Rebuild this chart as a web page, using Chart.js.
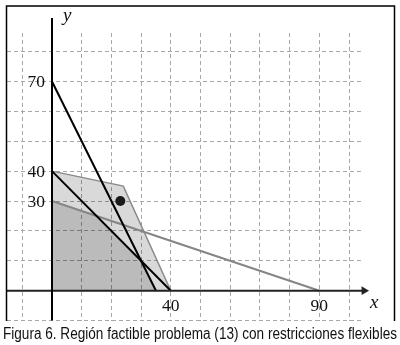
<!DOCTYPE html>
<html>
<head>
<meta charset="utf-8">
<script src="https://cdn.jsdelivr.net/npm/chart.js@4/dist/chart.umd.min.js"></script>
<style>
  html, body { margin: 0; background: #fff; }
  #wrap { width: 400px; height: 345px; }
</style>
</head>
<body>
<div id="wrap"><canvas id="c" width="400" height="345"></canvas></div>
<script>
// flexible (light) region and original (dark) region, upper boundary vertices
const flexX = [0, 24, 40];
const flexY = [40, 35, 0];
const origX = [0, 15, 30, 35];
const origY = [30, 25, 10, 0];
// constraint lines, intercept to intercept
const lineAX = [0, 35];
const lineAY = [70, 0];
const lineBX = [0, 40];
const lineBY = [40, 0];
const lineCX = [0, 90];
const lineCY = [30, 0];
// the marked point
const dotX = [23];
const dotY = [30];
// labelled ticks
const xTickLabels = [40, 90];
const yTickLabels = [70, 40, 30];
const CAPTION = 'Figura 6. Región factible problema (13) con restricciones flexibles';

const X_MIN = -15.15, X_MAX = 104.7;
const Y_MIN = -10, Y_MAX = 86.2;

const pts = (xs, ys) => xs.map((x, i) => ({ x, y: ys[i] }));

const decor = {
  id: 'decor',
  afterDraw(chart) {
    const { ctx, scales: { x, y } } = chart;
    const x0 = x.getPixelForValue(0), y0 = y.getPixelForValue(0);
    ctx.save();
    ctx.fillStyle = '#111';
    ctx.font = '17.5px "Liberation Serif"';
    ctx.textAlign = 'right';
    ctx.textBaseline = 'middle';
    yTickLabels.forEach(v => ctx.fillText(String(v), 45, y.getPixelForValue(v) + 1));
    ctx.textAlign = 'center';
    xTickLabels.forEach(v => ctx.fillText(String(v), x.getPixelForValue(v), y0 + 16));
    ctx.font = 'italic 19px "Liberation Serif"';
    ctx.textAlign = 'left';
    ctx.fillText('y', x0 + 11, 16);
    ctx.fillText('x', 370, y0 + 12);
    // frame (open at the bottom, like the original)
    ctx.strokeStyle = '#000';
    ctx.lineWidth = 1.5;
    ctx.beginPath();
    ctx.moveTo(6.5, 321);
    ctx.lineTo(6.5, 6);
    ctx.lineTo(394.5, 6);
    ctx.lineTo(394.5, 321);
    ctx.stroke();
    // caption
    ctx.fillStyle = '#111';
    ctx.font = '16px "Liberation Sans"';
    ctx.textAlign = 'center';
    ctx.textBaseline = 'alphabetic';
    ctx.fillText(CAPTION, 200, 338.5, 394);
    ctx.restore();
  }
};

const gridOpts = { color: '#a8a8a8', lineWidth: 1, drawTicks: false };

new Chart(document.getElementById('c').getContext('2d'), {
  type: 'line',
  data: {
    datasets: [
      { // y axis with arrow
        data: [{ x: 0, y: Y_MIN }, { x: 0, y: 91.2 }],
        borderColor: '#000', borderWidth: 2,
        pointRadius: [0, 5], pointStyle: 'triangle', pointRotation: 0,
        pointBackgroundColor: '#000', pointBorderWidth: 0,
        clip: false, order: 1,
      },
      { // x axis with arrow
        data: [{ x: X_MIN, y: 0 }, { x: 105.05, y: 0 }],
        borderColor: '#222', borderWidth: 2,
        pointRadius: [0, 5], pointStyle: 'triangle', pointRotation: 90,
        pointBackgroundColor: '#222', pointBorderWidth: 0,
        clip: false, order: 1,
      },
      {
        data: pts(dotX, dotY),
        showLine: false, pointRadius: 5,
        pointBackgroundColor: '#1a1a1a', pointBorderWidth: 0, order: 2,
      },
      { data: pts(lineAX, lineAY), borderColor: '#000', borderWidth: 2, pointRadius: 0, order: 3 },
      { data: pts(lineBX, lineBY), borderColor: '#000', borderWidth: 2, pointRadius: 0, order: 3 },
      { data: pts(lineCX, lineCY), borderColor: '#858585', borderWidth: 2, pointRadius: 0, order: 4 },
      {
        data: pts(origX, origY), fill: 'origin',
        backgroundColor: 'rgba(0,0,0,0.14)', borderWidth: 0, pointRadius: 0, order: 5,
      },
      {
        data: pts(flexX, flexY), fill: 'origin',
        backgroundColor: 'rgba(0,0,0,0.15)', borderColor: '#8a8a8a', borderWidth: 1.5,
        pointRadius: 0, order: 6,
      },
    ],
  },
  options: {
    responsive: false,
    animation: false,
    events: [],
    layout: { padding: { left: 7, top: 33, right: 37, bottom: 24.4 } },
    plugins: { legend: { display: false }, tooltip: { enabled: false } },
    scales: {
      x: {
        type: 'linear', min: X_MIN, max: X_MAX,
        ticks: { display: false, stepSize: 10, includeBounds: false },
        grid: gridOpts,
        border: { display: false, dash: [4, 3] },
      },
      y: {
        type: 'linear', min: Y_MIN, max: Y_MAX,
        ticks: { display: false, stepSize: 10, includeBounds: false },
        grid: gridOpts,
        border: { display: false, dash: [4, 3] },
      },
    },
  },
  plugins: [decor],
});
</script>
</body>
</html>
